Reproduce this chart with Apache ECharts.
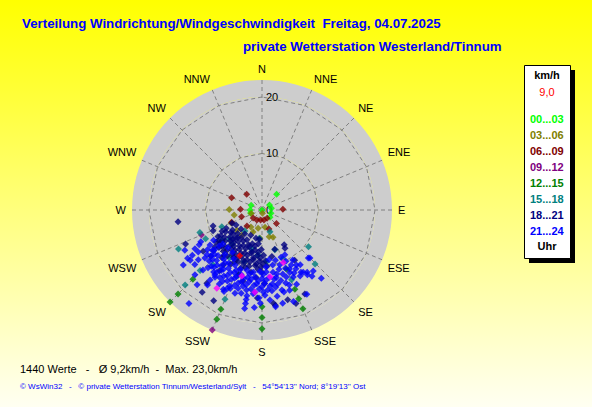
<!DOCTYPE html>
<html><head><meta charset="utf-8">
<script src="https://cdn.jsdelivr.net/npm/echarts@6/dist/echarts.min.js"></script>
<style>html,body{margin:0;padding:0;background:#fff}#c{width:592px;height:407px;}</style>
</head><body><div id="c"></div>
<script>
// ---- texts ----
const titleText = 'Verteilung Windrichtung/Windgeschwindigkeit  Freitag, 04.07.2025';
const subTitleText = 'private Wetterstation Westerland/Tinnum';
const footerText = '\u00a9 WsWin32   -   \u00a9 private Wetterstation Tinnum/Westerland/Sylt   -   54\u00b054\'13\'\' Nord; 8\u00b019\'13\'\' Ost';
const directions = ['N','NNE','NE','ENE','E','ESE','SE','SSE','S','SSW','SW','WSW','W','WNW','NW','NNW'];
const radiusTickStep = 10;
const radiusMax = 23;
const gridRings = [10, 20];

// ---- statistics ----
const valueCount = 1440;
const avgSpeed = 9.2;
const maxSpeed = 23.0;
const currentSpeed = 9.0;
const currentDir = 206;

// ---- time classes ----
const seriesNames = ['00...03','03...06','06...09','09...12','12...15','15...18','18...21','21...24'];
const seriesColors = ['#00ff00','#808000','#800000','#800080','#008000','#008080','#000080','#0000ff'];

// [speed km/h, direction deg]
const h00_03 = [[3.8,43],[2.1,294],[2.1,270],[2.1,255],[0,0],[1.6,56],[1.7,80],[1.7,110],[1.9,132]];
const h03_06 = [[5.8,271],[5.0,260],[2.0,252],[0.6,172],[5.9,247],[5.7,231],[5.7,219],[3.6,213],[4.2,202],[3.3,192],[3.1,170],[5.0,184],[4.9,165],[5.2,158]];
const h06_09 = [[5.8,292],[3.9,316],[3.8,272],[3.7,88],[5.8,248],[3.8,252],[2.1,228],[2.0,207],[1.8,188],[1.8,169],[1.7,148],[3.5,133],[3.6,160],[3.9,223]];
const h09_12 = [[11.6,247.5],[23.0,202.5]];
const h12_15 = [[17.3,225],[21.0,225],[23.0,225],[19.0,202.5],[20.9,202.5],[17.1,180],[19.0,180],[21.0,180],[11.3,157.5],[15.2,157.5],[17.0,157.5],[18.9,157.5]];
const h15_18 = [[16.3,245],[19.0,225.7],[11.7,250],[11.2,243],[7.7,247.5],[7.7,228],[4.8,219],[7.1,195],[5.0,185.5],[10.5,128.4],[13.4,135.5],[13.4,157],[17.1,202.5],[9.2,175],[9.4,157],[15.3,225.7],[8.9,233],[8.0,221],[13.0,222],[8.0,185],[9.7,199],[10.2,214],[7.4,162],[12.3,200],[4.1,160]];
const h18_21 = [
 [5.1,192],[4.9,204],[5.2,216],[5.0,228],[5.3,240],
 [6.0,186],[6.2,196],[5.9,207],[6.1,217],[6.0,226],[6.3,236],[5.8,246],
 [6.5,191],[6.6,201],[6.4,211],[6.5,221],[6.6,231],
 [7.0,181],[7.2,190],[6.9,199],[7.1,208],[7.0,217],[7.3,225],[6.8,234],[7.1,243],
 [7.5,185],[7.6,194],[7.4,203],[7.5,212],[7.6,221],[7.4,230],[7.5,239],
 [8.0,178],[8.1,186],[7.9,194],[8.2,202],[8.0,210],[8.1,218],[7.8,226],[8.2,234],[8.0,242],
 [8.5,182],[8.6,190],[8.4,198],[8.5,206],[8.6,214],[8.4,222],[8.5,230],[8.6,238],
 [9.0,176],[9.1,183],[8.9,190],[9.2,197],[9.0,204],[9.1,211],[8.8,218],[9.2,225],[9.0,232],[9.1,239],
 [9.5,179],[9.6,186],[9.4,193],[9.5,200],[9.6,207],[9.4,214],[9.5,221],[9.6,228],[9.4,235],
 [10.0,175],[10.1,181],[9.9,187],[10.2,193],[10.0,199],[10.1,205],[9.8,211],[10.2,217],[10.0,223],[10.1,229],[9.9,235],
 [10.5,184],[10.6,196],[10.4,208],[10.5,220],[10.6,232],
 [11.0,180],[11.2,190],[10.9,200],[11.1,210],[11.0,220],[11.2,230],
 [12.0,185],[12.1,200],[11.9,215],[12.2,228],
 [13.0,195],[13.1,215],
 [15.0,262],[14.8,246],[9.1,252],[9.4,247],[6.8,224],[7.3,162],[7.3,147.5],[7.9,149],[18.2,208],[17.0,172],[18.0,216],[17.6,160],[12.7,235],[9.6,231],[10.6,147],[5.2,185],[16.6,173],
 [16.2,217],[16.5,164],[15.6,183],[13.0,178],[16.7,153],[8.4,168]
];
const h21_24 = [
 [9.0,158],[9.2,165],[8.9,172],[9.1,215],[9.0,222],[9.2,229],
 [10.0,155],[10.2,162],[9.9,169],[10.1,176],[10.0,210],[10.2,220],[9.9,230],[10.1,238],
 [11.0,152],[11.1,158],[10.9,164],[11.2,170],[11.0,176],[10.9,182],[11.1,188],[11.0,194],[11.2,200],[10.9,206],[11.1,212],[11.0,218],[11.2,224],[10.9,230],[11.1,236],
 [11.5,155],[11.6,167],[11.4,179],[11.5,191],[11.6,203],[11.4,215],[11.5,227],
 [12.0,150],[12.1,156],[11.9,162],[12.2,168],[12.0,174],[12.1,180],[11.9,186],[12.2,192],[12.0,198],[12.1,204],[11.9,210],[12.2,216],[12.0,222],[12.1,228],[11.9,234],
 [12.5,153],[12.6,160],[12.4,170],[12.5,177],[12.6,183],[12.4,189],[12.5,195],[12.6,201],[12.4,207],[12.5,213],[12.6,219],[12.4,225],[12.5,231],
 [13.0,148],[13.1,155],[12.9,165],[13.2,172],[13.0,178],[13.1,184],[12.9,190],[13.2,196],[13.0,202],[13.1,208],[12.9,214],[13.2,220],[13.0,226],
 [13.5,150],[13.6,162],[13.4,168],[13.5,174],[13.6,180],[13.4,186],[13.5,192],[13.6,198],[13.4,204],[13.5,210],[13.6,216],[13.4,222],
 [14.0,145],[14.1,160],[13.9,170],[14.2,176],[14.0,182],[14.1,188],[13.9,194],[14.2,200],[14.0,206],[14.1,212],[13.9,218],
 [14.5,155],[14.6,166],[14.4,173],[14.5,179],[14.6,185],[14.4,191],[14.5,197],[14.6,203],[14.4,209],[14.5,215],
 [15.0,165],[15.1,178],[14.9,186],[15.2,194],[15.0,202],[15.1,210],
 [15.5,170],[15.6,182],[15.4,190],[15.5,198],[15.6,206],
 [16.0,175],[16.1,190],[15.9,205],
 [8.9,153],[11.8,145],[12.0,135],[15.0,161],[16.9,152],[14.1,140],[14.7,143],[13.2,146.5],[11.5,148],[10.4,148.5],[11.8,136],[13.6,144],[17.1,161],[17.3,172],[17.3,184.5],[17.7,190],[15.2,204],[16.4,216],[17.5,221],[21.0,218],[15.7,237],[15.5,235],[15.3,231],[14.3,232],[12.2,242.5],[12.7,241],[13.7,240],[14.9,224.5],[15.4,216.6],[16.0,139],[16.8,190],[16.9,167.5],[16.5,181],
 [15.4,242.5],[14.7,237],[13.5,236.7],[13.2,230],[14.0,223],[16.5,226],[11.3,231],[14.2,216],[17.0,235]
];
const markPoints = [[12.2,197],[16.0,210],[14.6,185],[11.9,173],[10.0,158]];

const classData = [h00_03,h03_06,h06_09,h09_12,h12_15,h15_18,h18_21,h21_24];

// ---- layout ----
const FONT = '"Liberation Sans", Arial, sans-serif';
const CX = 262, CY = 210, R = 130;
const fmt = v => v.toFixed(1).replace('.', ',');

const chart = echarts.init(document.getElementById('c'), null, {renderer: 'svg'});

const series = classData.map((d, i) => ({
  name: seriesNames[i], type: 'scatter', coordinateSystem: 'polar',
  symbol: 'diamond', symbolSize: 7, data: d, z: 3,
  itemStyle: {color: seriesColors[i]}, silent: true
}));
series.push({name: 'mark', type: 'scatter', coordinateSystem: 'polar', symbol: 'diamond', symbolSize: 7,
  data: markPoints, z: 4, itemStyle: {color: '#ff00ff'}, silent: true});
series.push({name: 'aktuell', type: 'scatter', coordinateSystem: 'polar', symbol: 'diamond', symbolSize: 7,
  data: [[currentSpeed, currentDir]], z: 5, itemStyle: {color: '#ff0000'}, silent: true});

chart.setOption({
  animation: false,
  backgroundColor: {type: 'linear', x: 0, y: 0, x2: 0, y2: 1,
    colorStops: [{offset: 0, color: '#ffff00'}, {offset: 1, color: '#fffff2'}]},
  title: [
    {text: titleText, left: 22, top: 17, padding: 0, textStyle: {color: '#0000ff', fontSize: 13.3, fontWeight: 'bold', fontFamily: FONT}},
    {text: subTitleText, left: 243, top: 40, padding: 0, textStyle: {color: '#0000ff', fontSize: 13.3, fontWeight: 'bold', fontFamily: FONT}},
    {text: valueCount + ' Werte   -   \u00d8 ' + fmt(avgSpeed) + 'km/h  -  Max. ' + fmt(maxSpeed) + 'km/h', left: 20, top: 363, padding: 0,
      textStyle: {color: '#000', fontSize: 11, fontWeight: 'normal', fontFamily: FONT}},
    {text: footerText, left: 20, top: 382, padding: 0, textStyle: {color: '#0000ff', fontSize: 8, fontWeight: 'normal', fontFamily: FONT}}
  ],
  polar: {center: [CX, CY], radius: R},
  angleAxis: {
    type: 'value', min: 0, max: 360, interval: 22.5, startAngle: 90, clockwise: true, z: 1,
    axisLine: {show: false}, axisTick: {show: false},
    axisLabel: {margin: 6, color: '#000', fontSize: 11, fontFamily: FONT,
      formatter: v => directions[Math.round(v / 22.5) % 16]},
    splitLine: {show: true, lineStyle: {color: '#808080', type: [4, 3], width: 1}},
    splitArea: {show: false}
  },
  radiusAxis: {
    type: 'value', min: 0, max: radiusMax, interval: radiusTickStep, z: 0,
    axisLine: {show: false}, axisTick: {show: false}, splitLine: {show: false},
    splitArea: {show: true, areaStyle: {color: ['#cdcdcd', '#cdcdcd']}},
    axisLabel: {showMaxLabel: false, margin: -4, align: 'left', color: '#000', fontSize: 11, fontFamily: FONT}
  },
  radar: {
    center: [CX, CY], radius: R * gridRings[gridRings.length - 1] / radiusMax, startAngle: 90,
    splitNumber: gridRings.length, shape: 'polygon', z: 1, silent: true,
    indicator: directions.map(() => ({name: '', min: 0, max: gridRings[gridRings.length - 1]})),
    axisName: {show: false}, axisLine: {show: false}, axisTick: {show: false}, axisLabel: {show: false},
    splitLine: {lineStyle: {color: '#808080', type: [4, 3], width: 1}},
    splitArea: {show: false}
  },
  legend: {
    orient: 'vertical', left: 525, top: 112, padding: 0, itemGap: 2, itemWidth: 0, itemHeight: 14,
    icon: 'none', selectedMode: false, z: 10,
    textStyle: {fontSize: 11, fontWeight: 'bold', fontFamily: FONT, lineHeight: 14},
    data: seriesNames.map((n, i) => ({name: n, textStyle: {color: seriesColors[i]}}))
  },
  graphic: [
    {type: 'rect', x: 529, y: 70, z: 5, shape: {width: 46, height: 193}, style: {fill: '#000'}},
    {type: 'rect', x: 524.5, y: 65.5, z: 6, shape: {width: 46, height: 193}, style: {fill: '#fff', stroke: '#000', lineWidth: 1}},
    {type: 'text', x: 547, y: 75, z: 7, style: {text: 'km/h', align: 'center', verticalAlign: 'middle', font: 'bold 11px ' + FONT, fill: '#000'}},
    {type: 'text', x: 547, y: 92, z: 7, style: {text: fmt(currentSpeed), align: 'center', verticalAlign: 'middle', font: '11px ' + FONT, fill: '#ff0000'}},
    {type: 'text', x: 547, y: 246, z: 7, style: {text: 'Uhr', align: 'center', verticalAlign: 'middle', font: 'bold 11px ' + FONT, fill: '#000'}}
  ],
  series: series
});
</script></body></html>
